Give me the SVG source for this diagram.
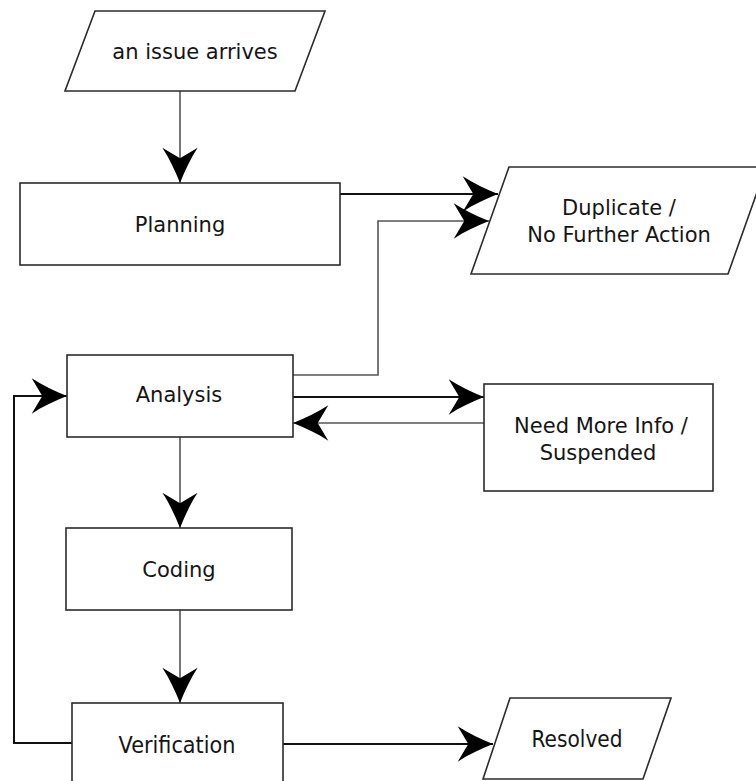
<svg xmlns="http://www.w3.org/2000/svg" width="756" height="781" viewBox="0 0 756 781">
  <style>
    .box { fill: #ffffff; stroke: #2b2b2b; stroke-width: 1.6; }
    .lbl { font-family: "DejaVu Sans", "Liberation Sans", sans-serif; font-size: 21px; fill: #151515; text-anchor: middle; }
    .lbl.tall { font-size: 23px; }
    .wire { fill: none; stroke: #555555; stroke-width: 1.6; }
    .wire.dark { stroke: #111111; stroke-width: 2; }
  </style>
  <defs>
    <marker id="head" markerUnits="userSpaceOnUse" markerWidth="40" markerHeight="40" viewBox="-32 -16 34 32" refX="0" refY="0" orient="auto" overflow="visible">
      <path d="M0,0 C-10,-4 -21,-9 -30,-15 L-21,0 L-30,15 C-21,9 -10,4 0,0 Z" fill="#000000"/>
    </marker>
  </defs>

  <rect width="756" height="781" fill="#ffffff"/>

  <!-- connectors -->
  <g id="connectors">
    <path class="wire" d="M180,91 V183" marker-end="url(#head)"/>
    <path class="wire dark" d="M338,194 H498" marker-end="url(#head)"/>
    <path class="wire" d="M293,375 H378 V221 H489" marker-end="url(#head)"/>
    <path class="wire dark" d="M293,397 H484" marker-end="url(#head)"/>
    <path class="wire" d="M484,423 H293" marker-end="url(#head)"/>
    <path class="wire" d="M180,437 V528" marker-end="url(#head)"/>
    <path class="wire" d="M180,610 V703" marker-end="url(#head)"/>
    <path class="wire dark" d="M72,743 H14 V396 H67" marker-end="url(#head)"/>
    <path class="wire dark" d="M283,744 H493" marker-end="url(#head)"/>
  </g>

  <g id="issue-arrives">
    <polygon class="box" points="95,11 325,11 295,91 65,91"/>
    <text class="lbl" x="195" y="59">an issue arrives</text>
  </g>

  <g id="planning">
    <rect class="box" x="20" y="183" width="320" height="82"/>
    <text class="lbl" x="180" y="232">Planning</text>
  </g>

  <g id="duplicate">
    <polygon class="box" points="509,167 766,167 728,274 471,274"/>
    <text class="lbl" x="619" y="215">Duplicate /</text>
    <text class="lbl" x="619" y="242">No Further Action</text>
  </g>

  <g id="analysis">
    <rect class="box" x="67" y="355" width="226" height="82"/>
    <text class="lbl" x="179" y="402">Analysis</text>
  </g>

  <g id="need-more-info">
    <rect class="box" x="484" y="384" width="229" height="107"/>
    <text class="lbl" x="601" y="433">Need More Info /</text>
    <text class="lbl" x="598" y="460">Suspended</text>
  </g>

  <g id="coding">
    <rect class="box" x="66" y="528" width="226" height="82"/>
    <text class="lbl" x="179" y="577">Coding</text>
  </g>

  <g id="verification">
    <rect class="box" x="72" y="703" width="211" height="100"/>
    <text class="lbl tall" x="177" y="753" textLength="117" lengthAdjust="spacingAndGlyphs">Verification</text>
  </g>

  <g id="resolved">
    <polygon class="box" points="510,698 671,698 643,779 483,779"/>
    <text class="lbl tall" x="577" y="747" textLength="91" lengthAdjust="spacingAndGlyphs">Resolved</text>
  </g>
</svg>
